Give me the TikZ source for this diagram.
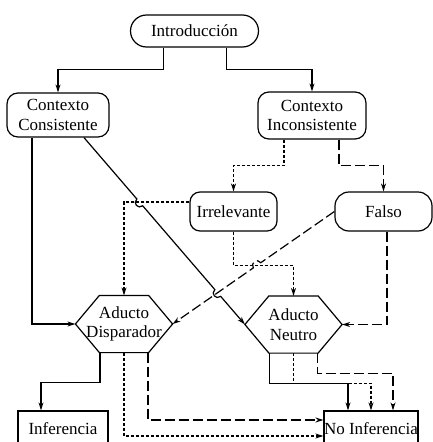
\documentclass[tikz,border=0pt]{standalone}
\usepackage{fontspec}
\setmainfont{Liberation Serif}
\usetikzlibrary{arrows.meta,%
		calc,%
		shapes.misc}

\begin{document}
\begin{tikzpicture}[x=1pt,y=-1pt,line width=1.2pt,
	font=\fontsize{17}{19.5}\selectfont,
	ovalo/.style={draw,rounded rectangle,minimum width=128pt,minimum height=32pt,inner sep=0pt},
	caja/.style={draw,rounded corners=11pt,align=center,minimum width=102pt,minimum height=44pt,inner sep=0pt},
	hexa/.style={align=center,minimum width=96pt,minimum height=56pt,inner sep=0pt},
	final/.style={draw,minimum width=90pt,minimum height=36pt,inner sep=0pt},
	flecha/.style={-{Stealth[length=8pt,width=5pt]}},
	corto/.style={dash pattern=on 3pt off 2pt},
	largo/.style={dash pattern=on 10pt off 4pt},
	salto/.style={bend right=90,looseness=1.7}]
\useasboundingbox (0,0) rectangle (433,442);
\clip (0,0) rectangle (433,442);

%nodos
\node[ovalo] (intro) at (194.5,31) {Introducción};
\node[caja] (cc) at (58,115) {Contexto\\Consistente};
\node[caja,minimum width=108pt,minimum height=47pt] (ci) at (312,115.5) {Contexto\\Inconsistente};
\node[caja,rounded corners=10pt,minimum width=87pt,minimum height=39pt] (irr) at (233.5,211.5) {Irrelevante};
\node[caja,rounded corners=14pt,minimum width=97pt,minimum height=39pt] (falso) at (383.5,211.5) {Falso};
\node[hexa] (ad) at (124,324) {Aducto\\Disparador};
\node[hexa] (an) at (293.5,324.5) {Aducto\\Neutro};
\node[final] (inf) at (63,429) {Inferencia};
\node[final] (ni) at (371,429) {No Inferencia};

%hexagonos
\foreach \h in {ad,an}
  \draw (\h.west) -- ([xshift=24pt]\h.north west) -- ([xshift=-24pt]\h.north east)
    -- (\h.east) -- ([xshift=-24pt]\h.south east) -- ([xshift=24pt]\h.south west) -- cycle;

%desde la introduccion
\draw[flecha] ([xshift=-31pt]intro.south) -- ++(0,22) -| (cc.north);
\draw[flecha] ([xshift=32pt]intro.south) -- ++(0,22) -| (ci.north);

%contexto consistente
\coordinate (cc1) at ([xshift=26pt]cc.south);
\draw[flecha] ([xshift=-26pt]cc.south) |- (ad.west);
\draw[flecha] (cc1) -- ($(cc1)!81pt!(an.west)$) to[salto] ($(cc1)!90pt!(an.west)$)
  -- ($(cc1)!200.5pt!(an.west)$) to[salto] ($(cc1)!209.5pt!(an.west)$) -- (an.west);

%contexto inconsistente
\draw[corto,flecha] ([xshift=-28pt]ci.south) -- ++(0,26) -| (irr.north);
\draw[largo,flecha] ([xshift=27pt]ci.south) -- ++(0,26) -| (falso.north);

%irrelevante
\draw[corto,flecha] ([yshift=9.5pt]irr.west) -| (ad.north);
\draw[corto,flecha] (irr.south) -- ++(0,34) -| (an.north);

%falso
\draw[largo,flecha] (falso.west) -- ($(falso.west)!89.7pt!(ad.east)$) to[salto]
  ($(falso.west)!98.7pt!(ad.east)$) -- (ad.east);
\draw[largo,flecha] ([xshift=3.5pt]falso.south) |- (an.east);

%aducto disparador
\draw[flecha] ([xshift=-24pt]ad.south) -- ++(0,30) -| ([xshift=-22pt]inf.north);
\draw[corto,flecha] (ad.south) |- ([yshift=-7pt]ni.west);
\draw[largo,flecha] ([xshift=24pt]ad.south) |- ([yshift=9pt]ni.west);

%aducto neutro
\draw[flecha] ([xshift=-24pt]an.south) -- ++(0,30) -| ([xshift=-23pt]ni.north);
\draw[corto,flecha] (an.south) -- ++(0,30) -| (ni.north);
\draw[largo,flecha] ([xshift=24pt]an.south) -- ++(0,20) -| ([xshift=22pt]ni.north);
\end{tikzpicture}
\end{document}
